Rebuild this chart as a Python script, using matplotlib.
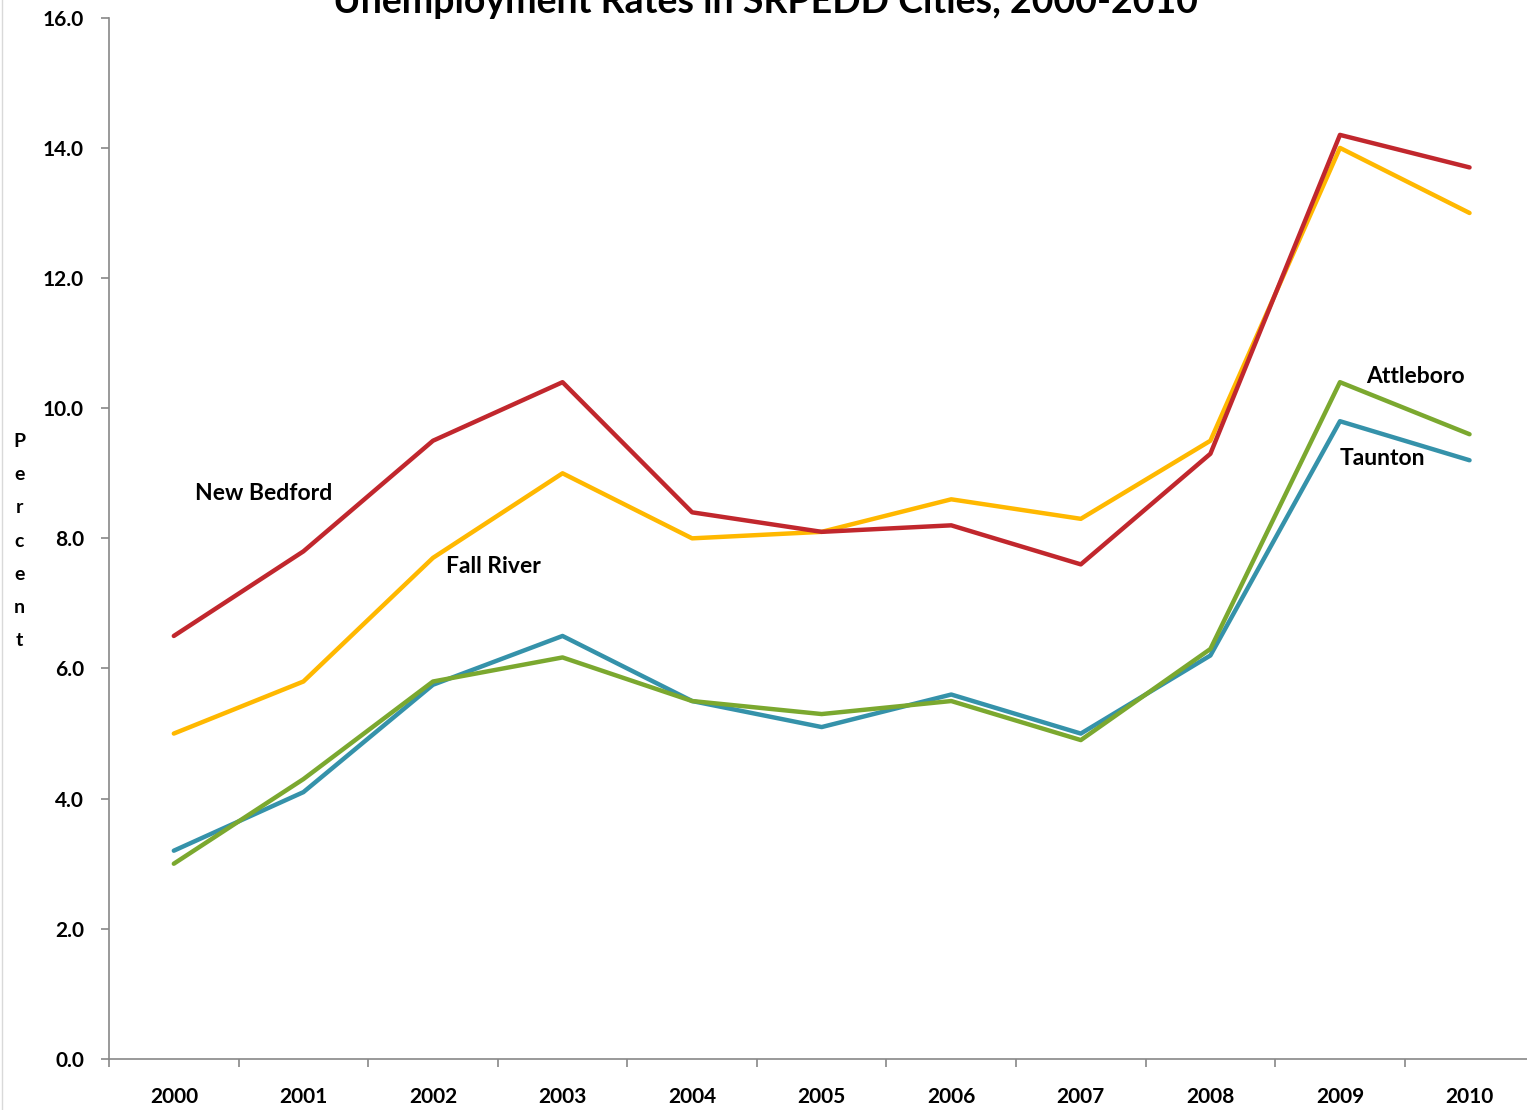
import matplotlib
matplotlib.use("Agg")
import matplotlib.pyplot as plt
from matplotlib.ticker import FixedLocator

plt.rcParams['font.family'] = ['Lato', 'DejaVu Sans']

years = ['2000', '2001', '2002', '2003', '2004', '2005', '2006', '2007', '2008', '2009', '2010']
new_bedford = [6.5, 7.8, 9.5, 10.4, 8.4, 8.1, 8.2, 7.6, 9.3, 14.2, 13.7]
fall_river = [5.0, 5.8, 7.7, 9.0, 8.0, 8.1, 8.6, 8.3, 9.5, 14.0, 13.0]
taunton = [3.2, 4.1, 5.75, 6.5, 5.5, 5.1, 5.6, 5.0, 6.2, 9.8, 9.2]
attleboro = [3.0, 4.3, 5.8, 6.17, 5.5, 5.3, 5.5, 4.9, 6.3, 10.4, 9.6]

fig = plt.figure(figsize=(15.27, 11.10), dpi=100)
ax = fig.add_axes([0.0714, 0.046, 0.93, 0.938])

x = list(range(len(years)))
ax.plot(x, taunton, color='#3592AA', lw=3.2, solid_capstyle='round')
ax.plot(x, attleboro, color='#7BA82F', lw=3.2, solid_capstyle='round')
ax.plot(x, fall_river, color='#FFB800', lw=3.2, solid_capstyle='round')
ax.plot(x, new_bedford, color='#C1272D', lw=3.2, solid_capstyle='round')

ax.set_xlim(-0.5, 10.46)
ax.set_ylim(0, 16)
ax.set_yticks([0, 2, 4, 6, 8, 10, 12, 14, 16])
ax.set_yticklabels(['%.1f' % v for v in ax.get_yticks()], fontsize=15, fontweight='bold')
ax.set_xticks(x)
ax.set_xticklabels(years, fontsize=15, fontweight='bold')
ax.xaxis.set_minor_locator(FixedLocator([i - 0.5 for i in range(len(years) + 1)]))
ax.tick_params(axis='x', which='major', length=0, pad=20)
ax.tick_params(axis='x', which='minor', length=6, color='#888888', width=1.2)
ax.tick_params(axis='y', length=6, color='#888888', width=1.2, pad=12)

for s in ['top', 'right']:
    ax.spines[s].set_visible(False)
for s in ['left', 'bottom']:
    ax.spines[s].set_color('#888888')
    ax.spines[s].set_linewidth(1.2)

label_kw = dict(fontsize=16.5, fontweight='bold', ha='center', va='center')
ax.text(0.695, 8.69, 'New Bedford', **label_kw)
ax.text(2.47, 7.57, 'Fall River', **label_kw)
ax.text(9.58, 10.48, 'Attleboro', **label_kw)
ax.text(9.33, 9.22, 'Taunton', **label_kw)

fig.text(0.0125, 0.5126, 'P\ne\nr\nc\ne\nn\nt', fontsize=14, fontweight='bold',
         ha='center', va='center', linespacing=2.15)

fig.text(0.501, 0.9883, 'Unemployment Rates in SRPEDD Cities, 2000-2010',
         fontsize=27, fontweight='bold', ha='center', va='baseline')

fig.add_artist(plt.Line2D([0.0015, 0.0015], [0, 1], transform=fig.transFigure,
                          color='#D9D9D9', lw=1))

fig.savefig('out.png', dpi=100)
